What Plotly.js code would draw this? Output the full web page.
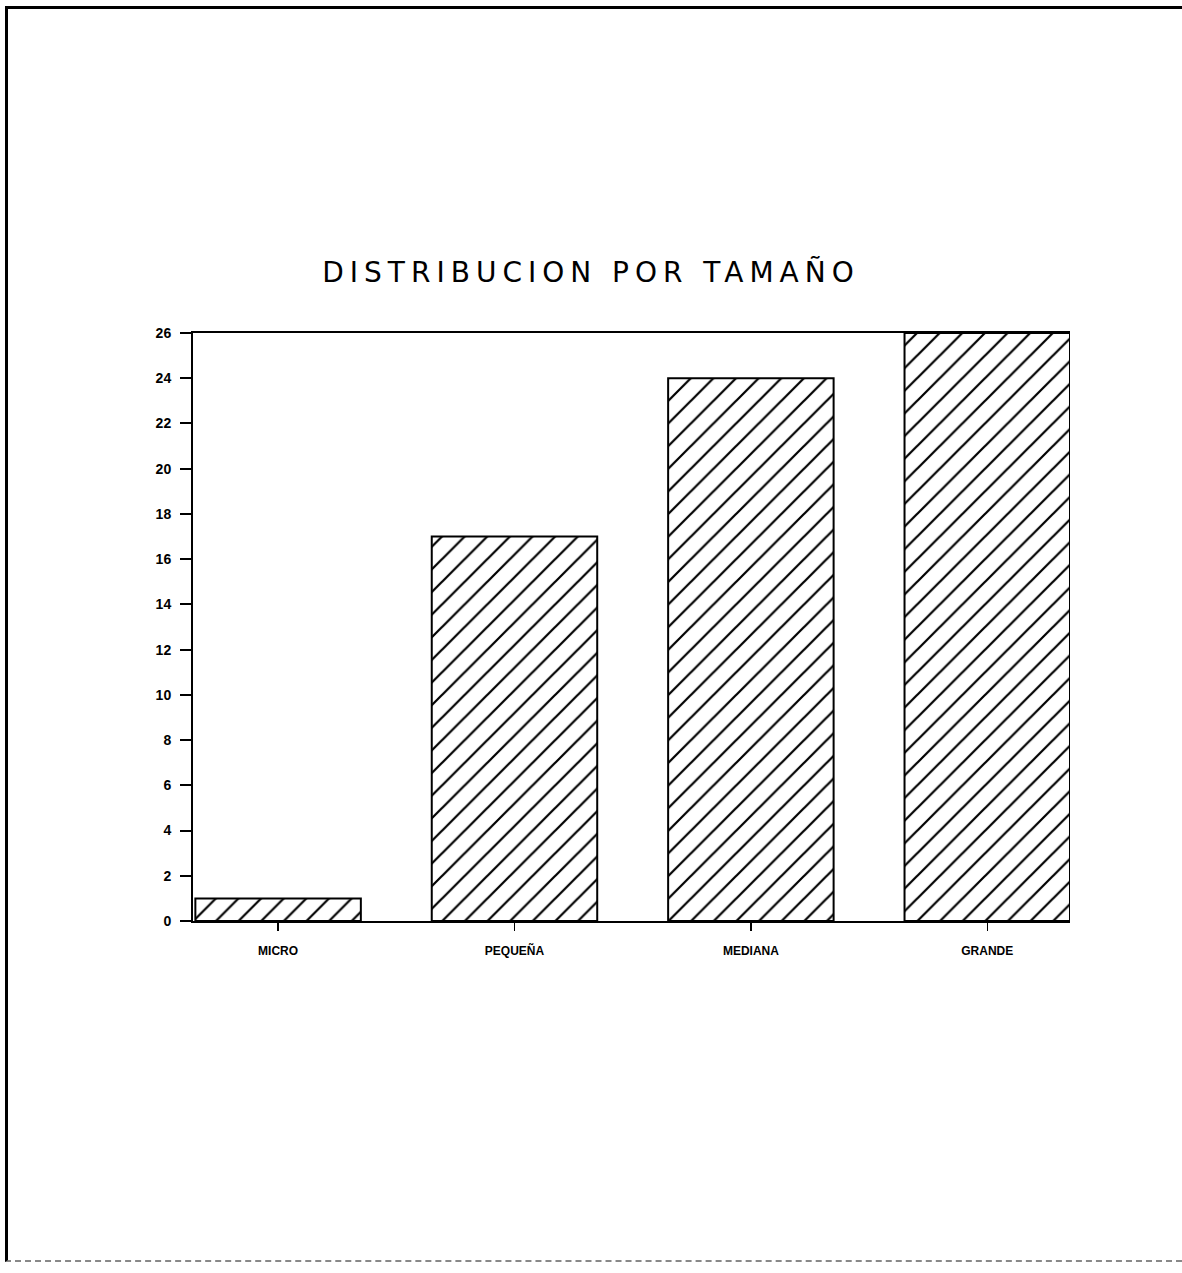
<!DOCTYPE html>
<html>
<head>
<meta charset="utf-8">
<script src="https://cdn.plot.ly/plotly-3.0.1.min.js"></script>
<style>
  html, body { margin: 0; padding: 0; background: #fff; }
  #frame { position: absolute; left: 5px; top: 6px; width: 1177px; height: 1256px;
           border-left: 3px solid #000; border-top: 3px solid #000; border-bottom: 2px dashed #888; box-sizing: border-box; }
  #chart { position: absolute; left: 0; top: 0; width: 1182px; height: 1273px; }
  .gtitle { letter-spacing: 6px; }
</style>
</head>
<body>
<div id="frame"></div>
<div id="chart"></div>
<script>
const categories = ["MICRO", "PEQUEÑA", "MEDIANA", "GRANDE"];
const values = [1, 17, 24, 26];
const yTicks = [0, 2, 4, 6, 8, 10, 12, 14, 16, 18, 20, 22, 24, 26];
const titleText = "DISTRIBUCION POR TAMAÑO";

const trace = {
  type: "bar",
  x: categories,
  y: values,
  width: 0.7,
  marker: {
    color: "#fff",
    line: { color: "#000", width: 2 },
    pattern: { shape: "/", size: 16, solidity: 0.14, fgcolor: "#000", fgopacity: 1, bgcolor: "#fff", fillmode: "replace" }
  },
  hoverinfo: "x+y"
};

const layout = {
  width: 1182,
  height: 1273,
  paper_bgcolor: "rgba(0,0,0,0)",
  plot_bgcolor: "rgba(0,0,0,0)",
  showlegend: false,
  margin: { l: 193, r: 112, t: 333, b: 352 },
  title: {
    text: titleText,
    font: { family: "DejaVu Sans", size: 28, color: "#000" },
    x: 0.5, xanchor: "center",
    y: 1 - 272 / 1273, yanchor: "middle"
  },
  xaxis: {
    type: "category",
    range: [-0.36, 3.35],
    showline: true, linecolor: "#000", linewidth: 2,
    mirror: true,
    ticks: "outside", ticklen: 8, tickwidth: 1.5, tickcolor: "#000",
    showgrid: false, zeroline: false,
    tickfont: { family: "Liberation Sans", size: 12, color: "#000", weight: "bold" },
    ticklabelstandoff: 10
  },
  yaxis: {
    range: [0, 26],
    tickvals: yTicks,
    ticktext: yTicks.map(String),
    showline: true, linecolor: "#000", linewidth: 2,
    ticks: "outside", ticklen: 11, tickwidth: 2, tickcolor: "#000",
    showgrid: false, zeroline: false,
    tickfont: { family: "Liberation Sans", size: 14, color: "#000", weight: "bold" },
    ticklabelstandoff: 6
  }
};

Plotly.newPlot("chart", [trace], layout, { displayModeBar: false, staticPlot: true });
</script>
</body>
</html>
